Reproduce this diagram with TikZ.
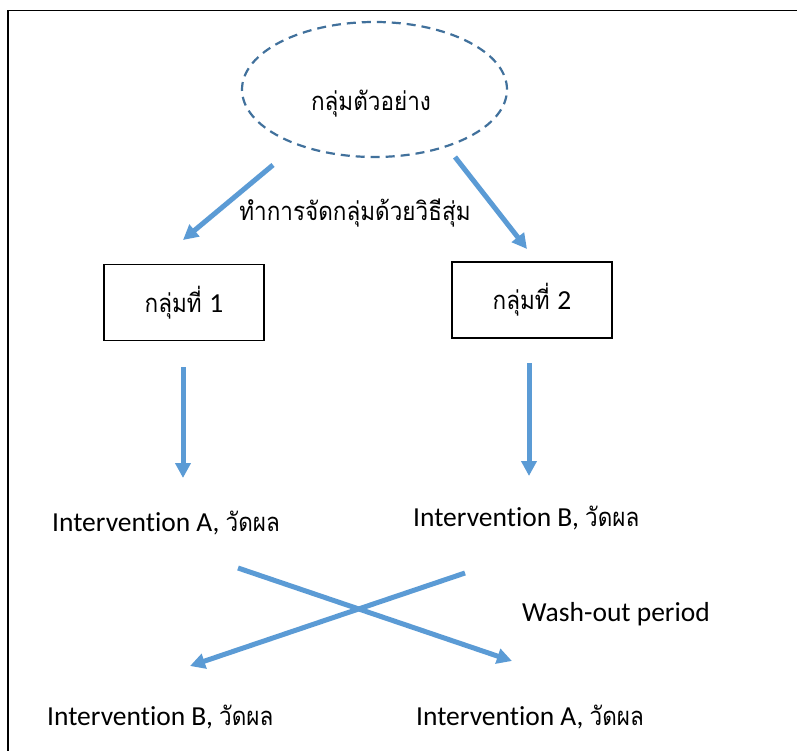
\documentclass[tikz,border=0pt]{standalone}
\usepackage{fontspec}
\setmainfont{Carlito}[Ligatures={NoCommon}]
\newfontfamily\thai[Script=Thai,Scale=0.93,FakeStretch=0.88]{Loma}
\usetikzlibrary{shapes.geometric,arrows.meta}
\definecolor{arrowblue}{HTML}{5B9BD5}
\definecolor{ellblue}{HTML}{41719C}
\tikzset{
  flow/.style={draw=arrowblue, line width=5pt, -{Triangle[length=15pt,width=15pt]}},
  crossline/.style={draw=arrowblue, line width=5pt, -{Triangle[length=15pt,width=15pt]}},
  groupbox/.style={draw=black, line width=1.2pt, minimum width=160pt, minimum height=76pt, inner sep=0pt, font=\fontsize{27.5}{32}\selectfont},
  lbl/.style={inner sep=0pt, font=\fontsize{27.5}{32}\selectfont},
}
\begin{document}
\begin{tikzpicture}[x=1pt,y=-1pt]
\useasboundingbox (0,0) rectangle (797,751);
\fill[white] (0,0) rectangle (797,751);
% frame
\draw[line width=1.3pt] (8,751) -- (8,10.5) -- (797,10.5);
% sample ellipse
\node[ellipse, draw=ellblue, line width=2.2pt, dash pattern=on 9pt off 6pt, minimum width=265pt, minimum height=135pt, inner sep=0pt] (sample) at (374.5,89.5) {};
\node[lbl] (sampletext) at (371,104) {\thai กลุ่มตัวอย่าง};
% groups
\node[groupbox] (g1) at (184,302.5) {\thai กลุ่มที่ \rmfamily 1};
\node[groupbox] (g2) at (532,300) {\thai กลุ่มที่ \rmfamily 2};
% randomisation label
\node[lbl] (rand) at (355,213) {\thai ทำการจัดกลุ่มด้วยวิธีสุ่ม};
% interventions
\node[lbl, anchor=west] (iA1) at (52,523) {Intervention A, {\thai วัดผล}};
\node[lbl, anchor=west] (iB1) at (413,518) {Intervention B, {\thai วัดผล}};
\node[lbl, anchor=west] (wash) at (522,614) {Wash-out period};
\node[lbl, anchor=west] (iB2) at (47,717) {Intervention B, {\thai วัดผล}};
\node[lbl, anchor=west] (iA2) at (416,717) {Intervention A, {\thai วัดผล}};
% arrow endpoints
\coordinate (s1) at (273,165);
\coordinate (e1) at (183,240);
\coordinate (s2) at (455,157);
\coordinate (e2) at (527,249);
\coordinate (s3) at (183,367);
\coordinate (e3) at (183,478);
\coordinate (s4) at (529,363);
\coordinate (e4) at (529,476);
\coordinate (s5) at (238,568);
\coordinate (e5) at (512,661);
\coordinate (s6) at (465,573);
\coordinate (e6) at (190,666);
\draw[flow] (s1) -- (e1);
\draw[flow] (s2) -- (e2);
\draw[flow] (s3) -- (e3);
\draw[flow] (s4) -- (e4);
\draw[crossline] (s5) -- (e5);
\draw[crossline] (s6) -- (e6);
\end{tikzpicture}
\end{document}
